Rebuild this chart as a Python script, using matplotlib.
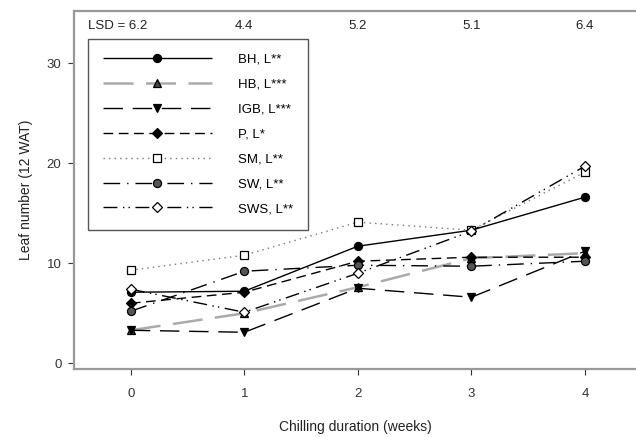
import numpy as np
import matplotlib
matplotlib.use('Agg')
import matplotlib.pyplot as plt

plt.rcParams['font.family'] = ['Liberation Sans', 'DejaVu Sans']

weeks = [0, 1, 2, 3, 4]
bh = [7.1, 7.2, 11.7, 13.3, 16.6]
hb = [3.3, 5.0, 7.6, 10.5, 11.0]
igb = [3.3, 3.1, 7.5, 6.6, 11.2]
p = [6.0, 7.1, 10.2, 10.6, 10.6]
sm = [9.3, 10.8, 14.1, 13.3, 19.1]
sw = [5.2, 9.2, 9.8, 9.7, 10.2]
sws = [7.4, 5.1, 9.0, 13.2, 19.7]
names = ['BH, L**', 'HB, L***', 'IGB, L***', 'P, L*', 'SM, L**', 'SW, L**', 'SWS, L**']
lsd_labels = ['LSD = 6.2', '4.4', '5.2', '5.1', '6.4']

fig = plt.figure(figsize=(6.36, 4.37), dpi=100)
ax = fig.add_axes([0.1164, 0.1556, 0.8836, 0.8192])

# one entry per series: data, line colour, width, dashes, marker, marker face
styles = [
    (bh, 'black', 1.0, (0, ()), 'o', 'black'),
    (hb, '#aaaaaa', 1.8, (0, (12, 5)), '^', '#444444'),
    (igb, 'black', 1.0, (0, (14, 7)), 'v', 'black'),
    (p, 'black', 1.0, (0, (7, 4)), 'D', 'black'),
    (sm, '#777777', 1.0, (0, (1, 3)), 's', 'white'),
    (sw, 'black', 1.0, (0, (12, 5, 1, 5)), 'o', '#555555'),
    (sws, 'black', 1.0, (0, (10, 4, 1, 3, 1, 4)), 'D', 'white'),
]
for (vals, col, lw, ls, mk, mfc), nm in zip(styles, names):
    ms = 5.0 if mk == 'D' else 5.8
    ax.plot(weeks, vals, color=col, lw=lw, linestyle=ls, marker=mk, ms=ms,
            mfc=mfc, mec='black', mew=0.9, label=nm)

for i, t in enumerate(lsd_labels):
    xpos = weeks[i] if i > 0 else -0.12
    ax.text(xpos, 33.7, t, ha='center', va='center', fontsize=9.5, color='#222222')

ax.set_xlim(-0.5, 4.45)
ax.set_ylim(-0.57, 35.2)
ax.set_xticks(weeks)
ax.set_yticks([0, 10, 20, 30])
ax.tick_params(labelsize=9.5, length=4, width=0.8, colors='#333333', pad=10)
ax.tick_params(axis='y', pad=5)
ax.spines['right'].set_visible(False)
for s in ['left', 'bottom', 'top']:
    ax.spines[s].set_color('#999999')
    ax.spines[s].set_linewidth(1.6)

ax.set_xlabel('Chilling duration (weeks)', fontsize=10, color='#222222', labelpad=14)
ax.set_ylabel('Leaf number (12 WAT)', fontsize=10, color='#222222', labelpad=10)

leg = ax.legend(loc='upper left', bbox_to_anchor=(0.025, 0.922), fontsize=9.5,
                handlelength=8.3, labelspacing=0.96, handletextpad=2.0,
                borderpad=1.1, borderaxespad=0, fancybox=False, framealpha=1)
leg.get_frame().set_edgecolor('#555555')
leg.get_frame().set_linewidth(1.0)

fig.savefig('out.png', dpi=100)
